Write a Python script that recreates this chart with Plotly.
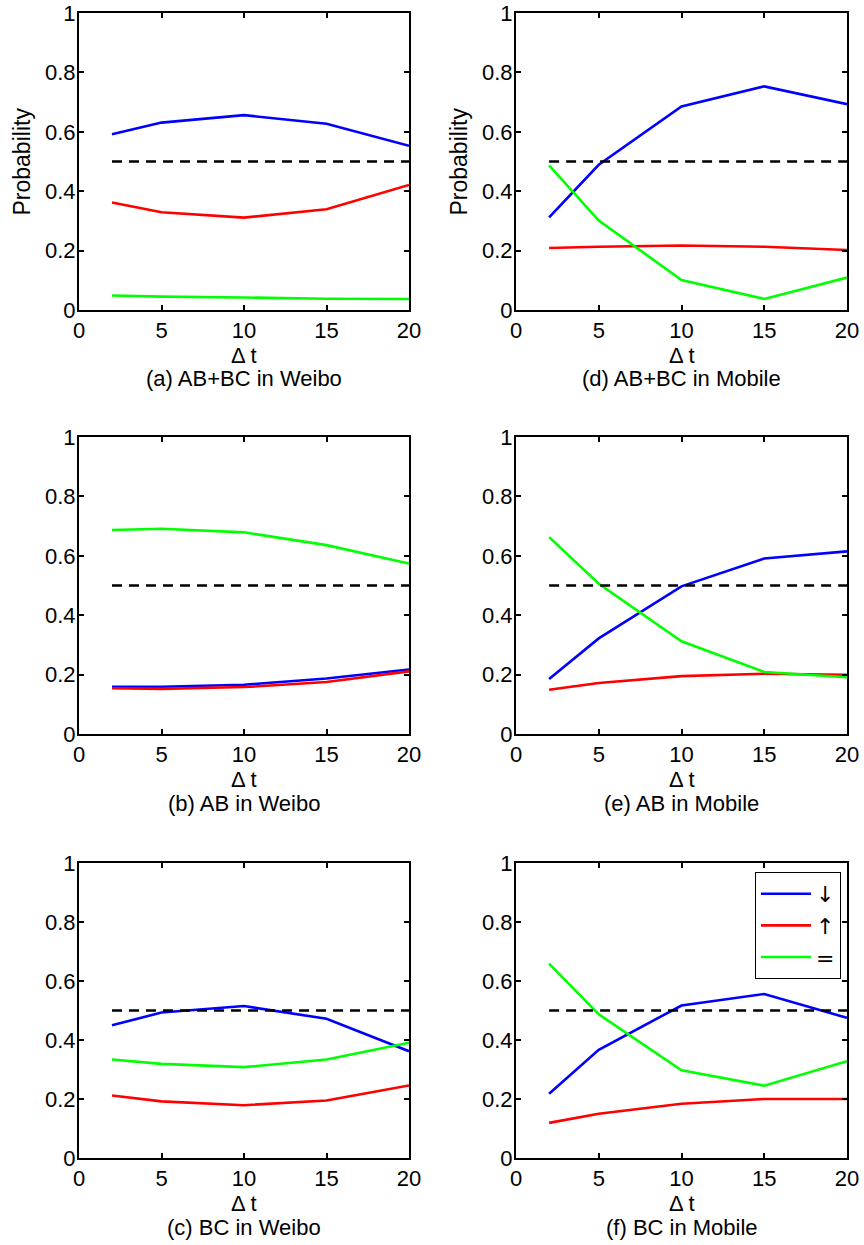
import plotly.graph_objects as go
from plotly.subplots import make_subplots

# Delta t values shared by every panel
dt = [2, 5, 10, 15, 20]

# (a) AB+BC in Weibo
a_down = [0.592, 0.631, 0.656, 0.627, 0.553]
a_up = [0.362, 0.329, 0.311, 0.339, 0.421]
a_eq = [0.049, 0.045, 0.042, 0.038, 0.037]

# (b) AB in Weibo
b_down = [0.159, 0.159, 0.166, 0.187, 0.217]
b_up = [0.154, 0.152, 0.158, 0.175, 0.211]
b_eq = [0.687, 0.691, 0.679, 0.636, 0.574]

# (c) BC in Weibo
c_down = [0.450, 0.493, 0.515, 0.472, 0.362]
c_up = [0.212, 0.192, 0.179, 0.195, 0.246]
c_eq = [0.334, 0.319, 0.308, 0.334, 0.391]

# (d) AB+BC in Mobile
d_down = [0.312, 0.489, 0.685, 0.753, 0.693]
d_up = [0.209, 0.213, 0.217, 0.213, 0.202]
d_eq = [0.487, 0.301, 0.101, 0.037, 0.109]

# (e) AB in Mobile
e_down = [0.185, 0.322, 0.497, 0.591, 0.615]
e_up = [0.149, 0.172, 0.195, 0.203, 0.199]
e_eq = [0.663, 0.506, 0.312, 0.209, 0.191]

# (f) BC in Mobile
f_down = [0.218, 0.367, 0.517, 0.556, 0.475]
f_up = [0.119, 0.150, 0.184, 0.200, 0.200]
f_eq = [0.659, 0.487, 0.297, 0.245, 0.328]

baseline = 0.5
captions = ["(a) AB+BC in Weibo", "(d) AB+BC in Mobile",
            "(b) AB in Weibo", "(e) AB in Mobile",
            "(c) BC in Weibo", "(f) BC in Mobile"]
series_names = ["↓", "↑", "="]
colors = ["#0000FF", "#FF0000", "#00FF00"]
x_ticks = [0, 5, 10, 15, 20]
y_ticks = [0, 0.2, 0.4, 0.6, 0.8, 1]
y_ticktext = ["0", "0.2", "0.4", "0.6", "0.8", "1"]

panels = [
    (1, 1, (a_down, a_up, a_eq)),
    (1, 2, (d_down, d_up, d_eq)),
    (2, 1, (b_down, b_up, b_eq)),
    (2, 2, (e_down, e_up, e_eq)),
    (3, 1, (c_down, c_up, c_eq)),
    (3, 2, (f_down, f_up, f_eq)),
]

W, H = 864, 1245
FONT = "Liberation Sans, Arial, Helvetica, sans-serif"

fig = make_subplots(rows=3, cols=2)

for row, col, data in panels:
    legend_panel = (row == 3 and col == 2)
    for vals, name, color in zip(data, series_names, colors):
        fig.add_trace(go.Scatter(x=dt, y=vals, mode="lines", name=name,
                                 line=dict(color=color, width=2.6),
                                 showlegend=legend_panel),
                      row=row, col=col)
    fig.add_trace(go.Scatter(x=[dt[0], dt[-1]], y=[baseline, baseline],
                             mode="lines", showlegend=False,
                             line=dict(color="black", width=2.6, dash="10px,7px")),
                  row=row, col=col)

# axes placement in pixels (left, right) and (top, bottom)
col_px = {1: (79, 409), 2: (516, 847)}
row_px = {1: (13, 310), 2: (437, 734), 3: (863, 1158)}

for row in (1, 2, 3):
    for col in (1, 2):
        l, r = col_px[col]
        t, b = row_px[row]
        fig.update_xaxes(domain=[l / W, r / W], range=[0, 20], tickvals=x_ticks,
                         ticks="inside", ticklen=5, tickwidth=1.5, tickcolor="black",
                         showline=True, linecolor="black", linewidth=2.2,
                         mirror="allticks", showgrid=False, zeroline=False,
                         automargin=False, ticklabelstandoff=-1,
                         tickfont=dict(family=FONT, size=22, color="black"),
                         row=row, col=col)
        fig.update_yaxes(domain=[1 - b / H, 1 - t / H], range=[0, 1],
                         tickvals=y_ticks, ticktext=y_ticktext,
                         ticks="inside", ticklen=5, tickwidth=1.5, tickcolor="black",
                         showline=True, linecolor="black", linewidth=2.2,
                         mirror="allticks", showgrid=False, zeroline=False,
                         automargin=False, ticklabelstandoff=-3,
                         tickfont=dict(family=FONT, size=22, color="black"),
                         row=row, col=col)

annotations = []
for i, (row, col, _) in enumerate(panels):
    l, r = col_px[col]
    t, b = row_px[row]
    cx = (l + r) / 2 / W
    annotations.append(dict(text="Δ t", x=cx, y=1 - (b + 45) / H, xref="paper", yref="paper",
                            showarrow=False, xanchor="center", yanchor="middle",
                            font=dict(family=FONT, size=22, color="black")))
    annotations.append(dict(text=captions[i], x=cx, y=1 - (b + 69) / H, xref="paper",
                            yref="paper", showarrow=False, xanchor="center",
                            yanchor="middle",
                            font=dict(family=FONT, size=22, color="black")))
    if row == 1:
        annotations.append(dict(text="Probability", x=(l - 57) / W, y=1 - (t + b) / 2 / H,
                                xref="paper", yref="paper", showarrow=False,
                                textangle=-90, xanchor="center", yanchor="middle",
                                font=dict(family=FONT, size=23, color="black")))

fig.update_layout(
    width=W, height=H,
    margin=dict(l=0, r=0, t=0, b=0, autoexpand=False),
    paper_bgcolor="white", plot_bgcolor="white",
    annotations=annotations,
    legend=dict(x=755 / W, y=1 - 872 / H, xanchor="left", yanchor="top",
                bgcolor="white", bordercolor="black", borderwidth=1,
                font=dict(family="DejaVu Sans, sans-serif", size=22, color="black"),
                itemwidth=50, tracegroupgap=0),
    font=dict(family=FONT),
)

fig.write_html("out.html")
